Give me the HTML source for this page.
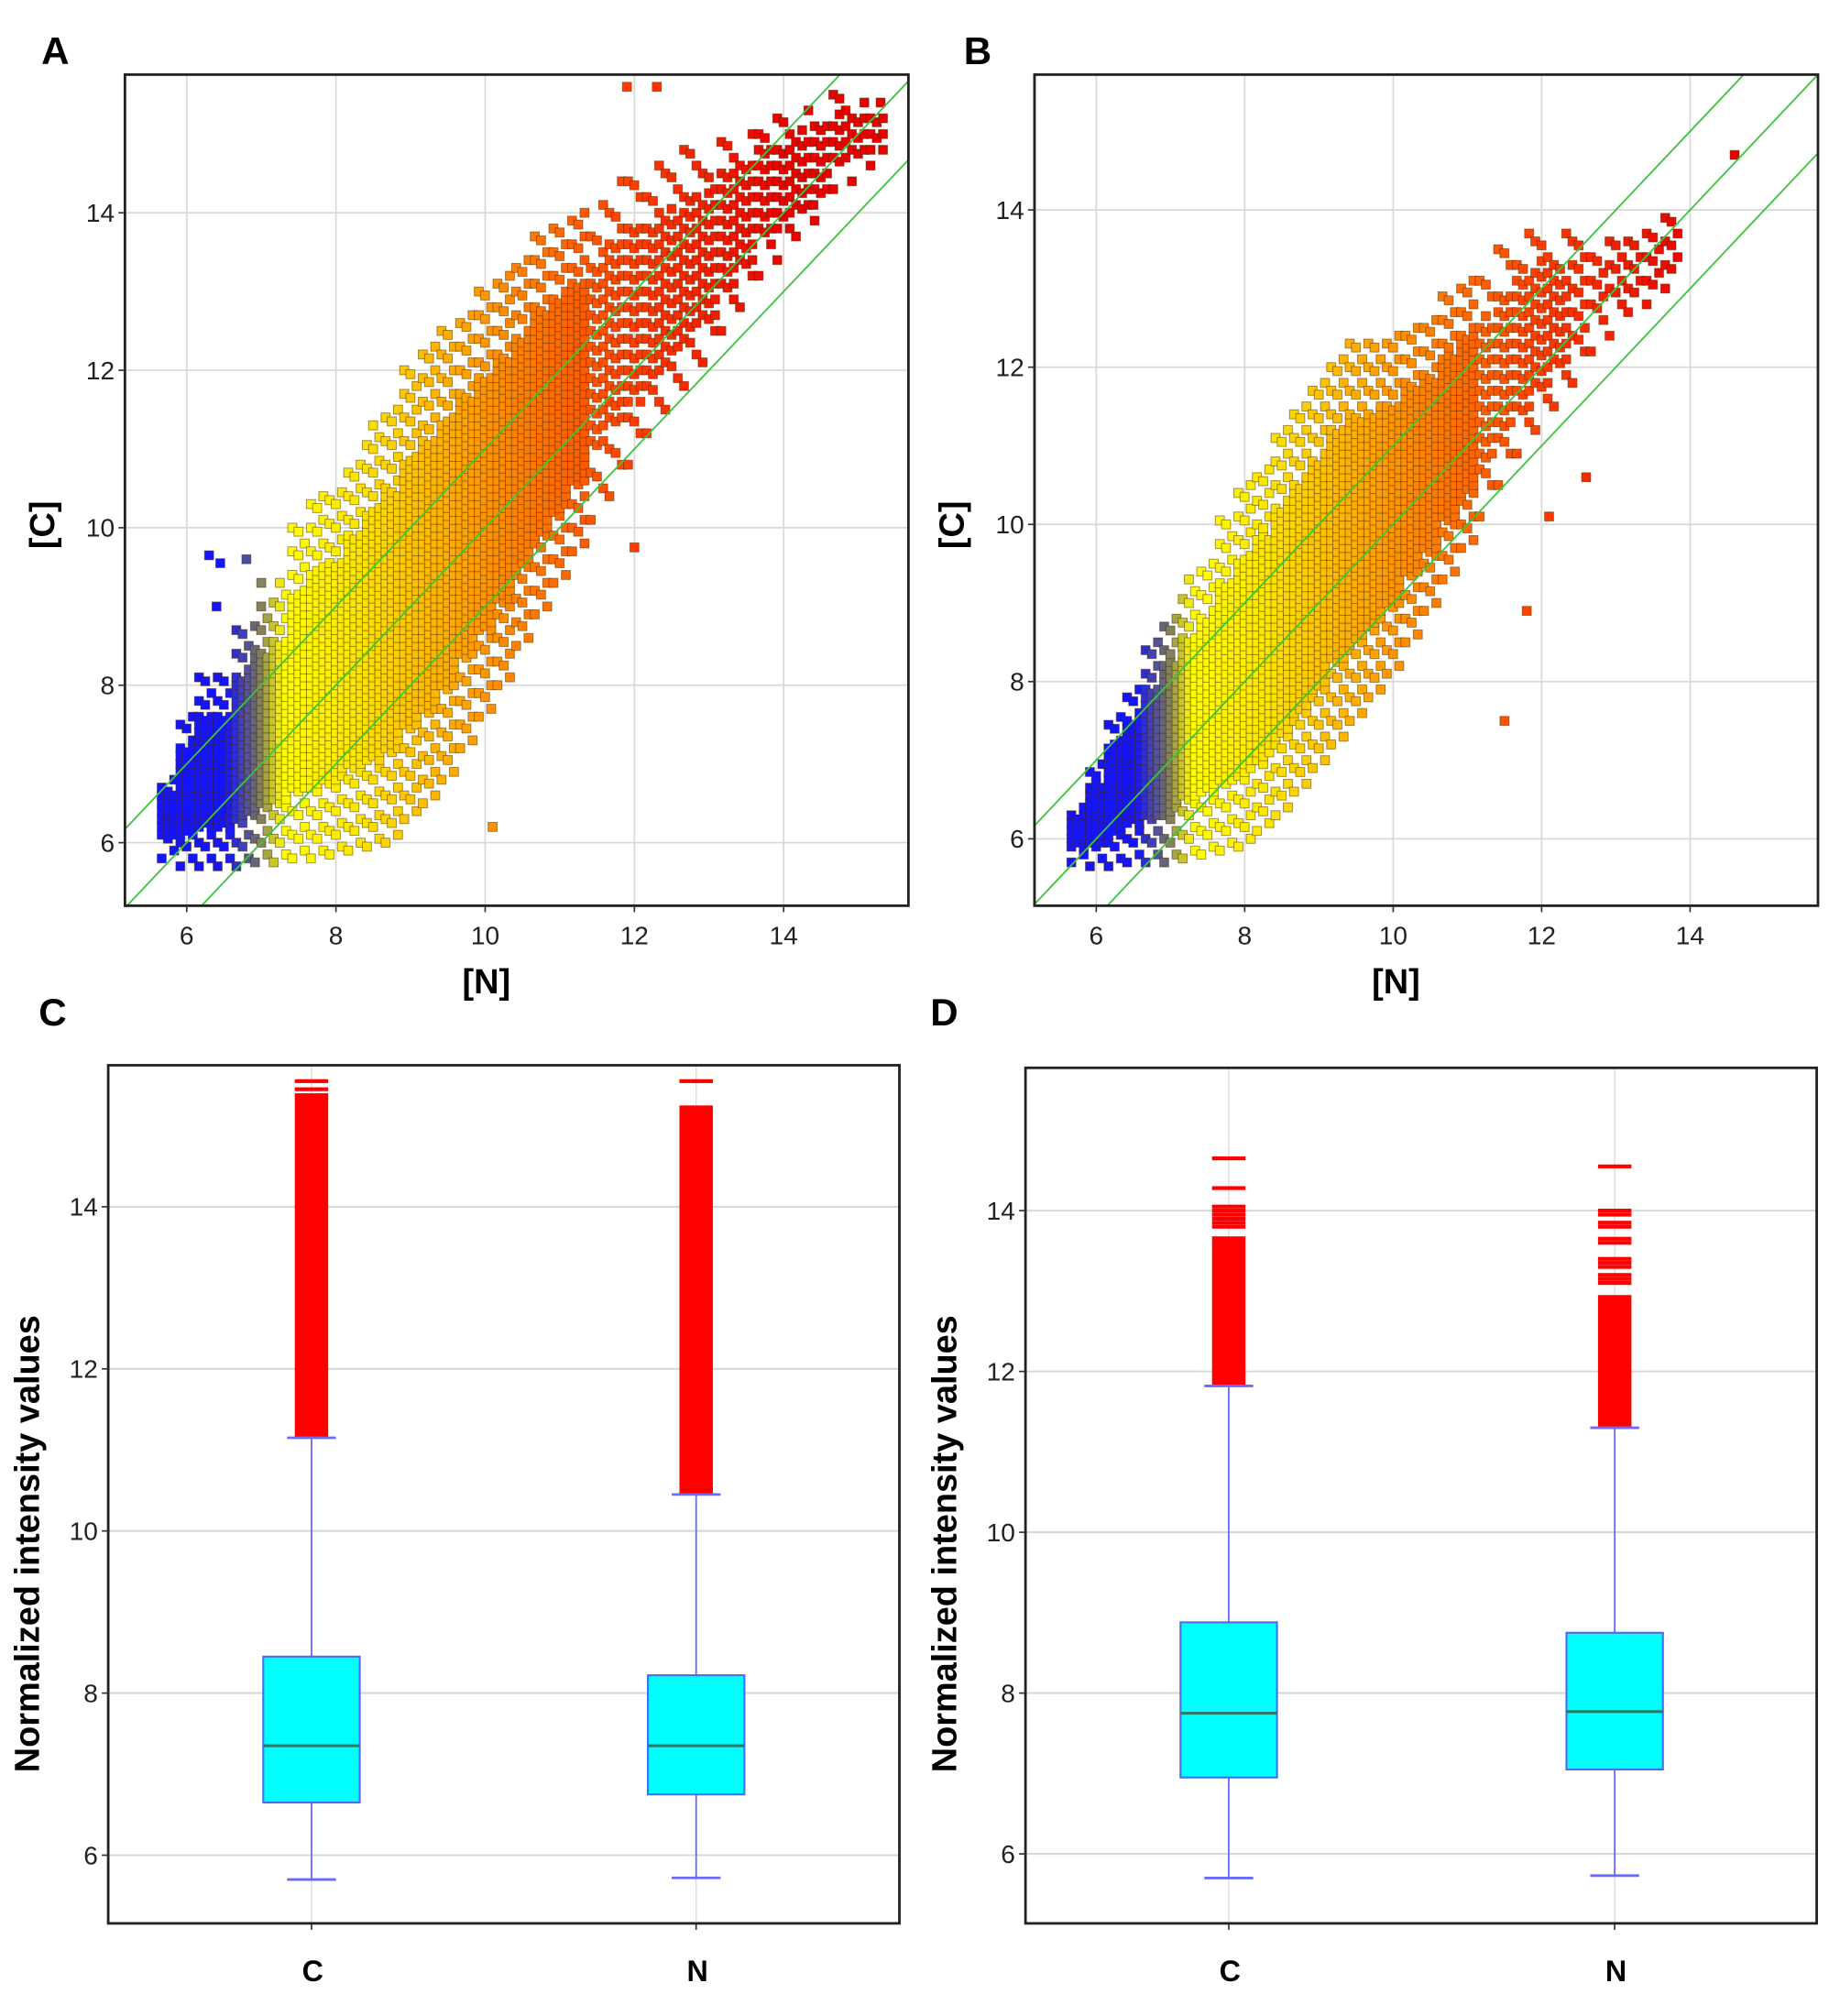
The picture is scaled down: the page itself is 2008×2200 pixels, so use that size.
<!DOCTYPE html>
<html><head><meta charset="utf-8"><style>
html,body{margin:0;padding:0;background:#fff;}
svg{display:block;font-family:"Liberation Sans",Arial,sans-serif;}
</style></head><body>
<svg id="fig" width="2008" height="2200" viewBox="0 0 1430 1567" xmlns="http://www.w3.org/2000/svg">
<defs>
<clipPath id="clipA"><rect x="97" y="58" width="609" height="646"/></clipPath>
<clipPath id="clipB"><rect x="804" y="58" width="609" height="646"/></clipPath>
</defs>
<text x="32" y="50" font-size="30" font-weight="bold">A</text>
<text x="749" y="50" font-size="30" font-weight="bold">B</text>
<text x="30" y="797" font-size="30" font-weight="bold">C</text>
<text x="723" y="797" font-size="30" font-weight="bold">D</text>
</svg>
<script>
// ---------- Scatter data (bands of the point cloud per N bin) ----------
const binXA = [5.75,6.0,6.25,6.5,6.75,7.0,7.25,7.5,7.75,8.0,8.25,8.5,8.75,9.0,9.25,9.5,9.75,10.0,10.25,10.5,10.75,11.0,11.25,11.5,11.75,12.0,12.25,12.5,12.75,13.0,13.25,13.5,13.75,14.0,14.25,14.5,14.75,15.0,15.25];
const loA = [5.8,5.7,5.7,5.7,5.7,5.75,5.75,5.8,5.8,5.85,5.9,5.95,6.0,6.3,6.5,6.8,7.2,7.6,8.0,8.5,8.9,9.3,9.7,10.1,10.4,10.8,11.2,11.5,11.8,12.1,12.5,12.8,13.2,13.4,13.7,13.9,14.3,14.4,14.6];
const hiA = [6.8,7.6,8.1,8.1,8.7,9.0,9.3,10.0,10.4,10.5,10.9,11.3,11.6,12.0,12.3,12.5,12.7,13.0,13.2,13.4,13.7,13.8,14.0,14.2,14.4,14.6,14.6,14.7,14.8,14.8,15.0,15.1,15.2,15.3,15.4,15.4,15.5,15.5,15.5];
const densA = [1,1,1,1,1,1,1,1,1,1,1,1,1,1,1,1,1,1,1,1,1,1,1,2,2,2,2,2,2,2,2,2,2,2,2,2,2,2,2];
const binXB = [5.75,6.0,6.25,6.5,6.75,7.0,7.25,7.5,7.75,8.0,8.25,8.5,8.75,9.0,9.25,9.5,9.75,10.0,10.25,10.5,10.75,11.0,11.25,11.5,11.75,12.0,12.25,12.5,12.75,13.0,13.25,13.5,13.75];
const loB = [5.7,5.65,5.65,5.7,5.7,5.7,5.75,5.8,5.85,5.9,6.1,6.3,6.6,6.9,7.2,7.5,7.8,8.1,8.5,8.9,9.3,9.7,10.1,10.5,10.9,11.2,11.5,11.8,12.2,12.4,12.7,12.8,13.0];
const hiB = [6.5,7.0,7.6,8.0,8.5,8.9,9.3,9.6,10.1,10.5,10.8,11.2,11.5,11.8,12.2,12.3,12.3,12.4,12.5,12.6,12.9,13.1,13.3,13.5,13.8,13.9,13.7,13.7,13.7,13.9,13.9,13.9,13.9];
const densB = [1,1,1,1,1,1,1,1,1,1,1,1,1,1,1,1,1,1,1,1,1,1,2,2,2,2,2,3,3,3,3,3,3];
const outXA = [6.3,6.45,6.8,7.0,6.4,12.0,10.1,11.9,12.3,15.3,14.4];
const outYA = [9.65,9.55,9.6,9.3,9.0,9.75,6.2,15.6,15.6,15.4,14.1];
const outXB = [14.6,12.6,11.5,12.1,11.8];
const outYB = [14.7,10.6,7.5,10.1,8.9];
const xTicks = [6,8,10,12,14];
const yTicks = [6,8,10,12,14];

// ---------- Box plot data ----------
const boxCats = ["C","N"];
const cQ1=[6.65,6.75], cMed=[7.35,7.35], cQ3=[8.45,8.22], cLo=[5.7,5.72], cHi=[11.15,10.45];
const cOutTop=[15.4,15.25], cSparse=[[15.55,15.45],[15.55]];
const dQ1=[6.95,7.05], dMed=[7.75,7.77], dQ3=[8.88,8.75], dLo=[5.7,5.73], dHi=[11.82,11.3];
const dOutTop=[13.68,12.95], dSparse=[[14.65,14.28,14.05,14.0,13.95,13.9,13.85,13.8],[14.55,14.0,13.95,13.85,13.8,13.65,13.6,13.4,13.35,13.3,13.2,13.15,13.1]];

const NS="http://www.w3.org/2000/svg";
const svg=document.getElementById('fig');
function mk(tag,attrs,parent){const e=document.createElementNS(NS,tag);for(const k in attrs)e.setAttribute(k,attrs[k]);(parent||svg).appendChild(e);return e;}

function lerp(a,b,t){return a+(b-a)*t;}
function mix(c1,c2,t){return 'rgb('+Math.round(lerp(c1[0],c2[0],t))+','+Math.round(lerp(c1[1],c2[1],t))+','+Math.round(lerp(c1[2],c2[2],t))+')';}
function colorFor(x){
  const stops=[[6.55,[20,20,255]],[6.95,[110,110,110]],[7.3,[255,255,0]],[8.3,[250,230,0]],[10,[255,150,0]],[12,[255,60,0]],[14,[235,0,0]]];
  if(x<=stops[0][0])return mix(stops[0][1],stops[0][1],0);
  for(let i=1;i<stops.length;i++){if(x<=stops[i][0]){const t=(x-stops[i-1][0])/(stops[i][0]-stops[i-1][0]);return mix(stops[i-1][1],stops[i][1],t);}}
  return mix([235,0,0],[235,0,0],0);
}

function scatterPanel(cfg){
  const {L,T,R,B,x6,xu,y6,yu,clip,binX,lo,hi,dens,ox,oy,nm}=cfg;
  const px=v=>x6+(v-6)*xu, py=v=>y6-(v-6)*yu;
  const g=mk('g',{});
  
  
  mk('rect',{x:L,y:T,width:R-L,height:B-T,fill:'#fff'},g);
  xTicks.forEach(v=>{const l=mk('line',{x1:px(v),x2:px(v),y1:T,y2:B,stroke:'#d8d8d8','stroke-width':1.2},g);});
  yTicks.forEach(v=>{const l=mk('line',{x1:L,x2:R,y1:py(v),y2:py(v),stroke:'#d8d8d8','stroke-width':1.2},g);});
  const pts=mk('g',{'clip-path':'url(#'+clip+')'},g);
  
  
  const s=7;
  for(let i=0;i<binX.length;i++){
    const span=hi[i]-lo[i];
    const cLo=lo[i]+span*0.2, cHi=hi[i]-span*0.2;
    const d=dens[i];
    for(let k=0;k<3;k++){
      const x=binX[i]-0.125+k*0.0833+0.04;
      const col=colorFor(x);
      let j=0;
      for(let y=lo[i]+((k%2)*0.05);y<=hi[i];y+=0.1,j++){
        const inCore=y>=cLo&&y<=cHi;
        if(inCore){ if(((j+k)%d)!==0)continue; }
        else if(((j+k)%(3*d))!==0)continue;
        const r=mk('rect',{x:px(x)-s/2,y:py(y)-s/2,width:s,height:s,fill:col,stroke:'rgba(70,40,0,0.5)','stroke-width':0.7},pts);
        
        
      }
    }
  }
  for(let i=0;i<ox.length;i++){
    const r=mk('rect',{x:px(ox[i])-s/2,y:py(oy[i])-s/2,width:s,height:s,fill:colorFor(ox[i]),stroke:'rgba(70,40,0,0.5)','stroke-width':0.7},pts);
    
    
  }
  const lines=mk('g',{'clip-path':'url(#'+clip+')'},g);
  [1,0,-1].forEach(off=>{
    const l=mk('line',{x1:px(5),y1:py(5+off),x2:px(16),y2:py(16+off),stroke:'#3cc43c','stroke-width':1.3},lines);
    
    
  });
  const fr=mk('rect',{x:L,y:T,width:R-L,height:B-T,fill:'none',stroke:'#222','stroke-width':2},g);
  
  xTicks.forEach(v=>{mk('line',{x1:px(v),x2:px(v),y1:B,y2:B+5,stroke:'#333','stroke-width':1.2},g);
    const t=mk('text',{x:px(v),y:B+30,'font-size':20,'text-anchor':'middle',fill:'#222'},g);t.textContent=v;
    });
  yTicks.forEach(v=>{mk('line',{x1:L-5,x2:L,y1:py(v),y2:py(v),stroke:'#333','stroke-width':1.2},g);
    const t=mk('text',{x:L-8,y:py(v)+7,'font-size':20,'text-anchor':'end',fill:'#222'},g);t.textContent=v;
    });
  const xt=mk('text',{x:L+281,y:B+68,'font-size':27,'font-weight':'bold','text-anchor':'middle'},g);xt.textContent='[N]';
  
  const yx=L-55, yy=408;
  const yt=mk('text',{x:yx,y:yy,'font-size':27,'font-weight':'bold','text-anchor':'middle',transform:'rotate(-90 '+yx+' '+yy+')'},g);yt.textContent='[C]';
  
}

function boxPanel(cfg){
  const {L,T,R,B,y6,yu,cx,q1,med,q3,lo,hi,outTop,sparse,nm}=cfg;
  const py=v=>y6-(v-6)*yu;
  const g=mk('g',{});
  
  
  yTicks.forEach(v=>{const l=mk('line',{x1:L,x2:R,y1:py(v),y2:py(v),stroke:'#d8d8d8','stroke-width':1.5},g);});
  cx.forEach(x=>{const l=mk('line',{x1:x,x2:x,y1:T,y2:B,stroke:'#dddddd','stroke-width':1},g);});
  const bw=75, ow=26, cw=38;
  for(let i=0;i<cx.length;i++){
    const x=cx[i];
    const og=mk('g',{},g);
    const r=mk('rect',{x:x-ow/2,y:py(outTop[i]),width:ow,height:py(hi[i])-py(outTop[i]),fill:'#ff0000'},og);
    
    sparse[i].forEach(v=>{const l=mk('rect',{x:x-ow/2,y:py(v)-1.5,width:ow,height:3,fill:'#ff0000'},og);
      });
    const w=mk('line',{x1:x,x2:x,y1:py(hi[i]),y2:py(lo[i]),stroke:'#6a6aff','stroke-width':1.3},g);
    
    [hi[i],lo[i]].forEach(v=>{const c=mk('line',{x1:x-cw/2,x2:x+cw/2,y1:py(v),y2:py(v),stroke:'#6a6aff','stroke-width':2},g);
      });
    const b=mk('rect',{x:x-bw/2,y:py(q3[i]),width:bw,height:py(q1[i])-py(q3[i]),fill:'#00ffff',stroke:'#4a6cf0','stroke-width':1.5},g);
    
    const m=mk('line',{x1:x-bw/2,x2:x+bw/2,y1:py(med[i]),y2:py(med[i]),stroke:'#2b7a6a','stroke-width':2.2},g);
    
    mk('line',{x1:x,x2:x,y1:B,y2:B+5,stroke:'#333','stroke-width':1.2},g);
    const t=mk('text',{x:x+1,y:B+45,'font-size':23,'font-weight':'bold','text-anchor':'middle'},g);t.textContent=boxCats[i];
    
  }
  const fr=mk('rect',{x:L,y:T,width:R-L,height:B-T,fill:'none',stroke:'#222','stroke-width':2},g);
  
  yTicks.forEach(v=>{mk('line',{x1:L-5,x2:L,y1:py(v),y2:py(v),stroke:'#333','stroke-width':1.2},g);
    const t=mk('text',{x:L-8,y:py(v)+7,'font-size':20,'text-anchor':'end',fill:'#222'},g);t.textContent=v;
    });
  const yx=L-54, yy=1200;
  const yt=mk('text',{x:yx,y:yy,'font-size':27,'font-weight':'bold','text-anchor':'middle',transform:'rotate(-90 '+yx+' '+yy+')'},g);yt.textContent='Normalized intensity values';
  
}

scatterPanel({nm:'panel-a',L:97,T:58,R:706,B:704,x6:145,xu:58,y6:655,yu:61.2,clip:'clipA',binX:binXA,lo:loA,hi:hiA,dens:densA,ox:outXA,oy:outYA});
scatterPanel({nm:'panel-b',L:804,T:58,R:1413,B:704,x6:852,xu:57.7,y6:652,yu:61.1,clip:'clipB',binX:binXB,lo:loB,hi:hiB,dens:densB,ox:outXB,oy:outYB});
boxPanel({nm:'panel-c',L:84,T:828,R:699,B:1495,y6:1442,yu:63,cx:[242,541],q1:cQ1,med:cMed,q3:cQ3,lo:cLo,hi:cHi,outTop:cOutTop,sparse:cSparse});
boxPanel({nm:'panel-d',L:797,T:830,R:1412,B:1495,y6:1441,yu:62.5,cx:[955,1255],q1:dQ1,med:dMed,q3:dQ3,lo:dLo,hi:dHi,outTop:dOutTop,sparse:dSparse});
</script>
</body></html>
